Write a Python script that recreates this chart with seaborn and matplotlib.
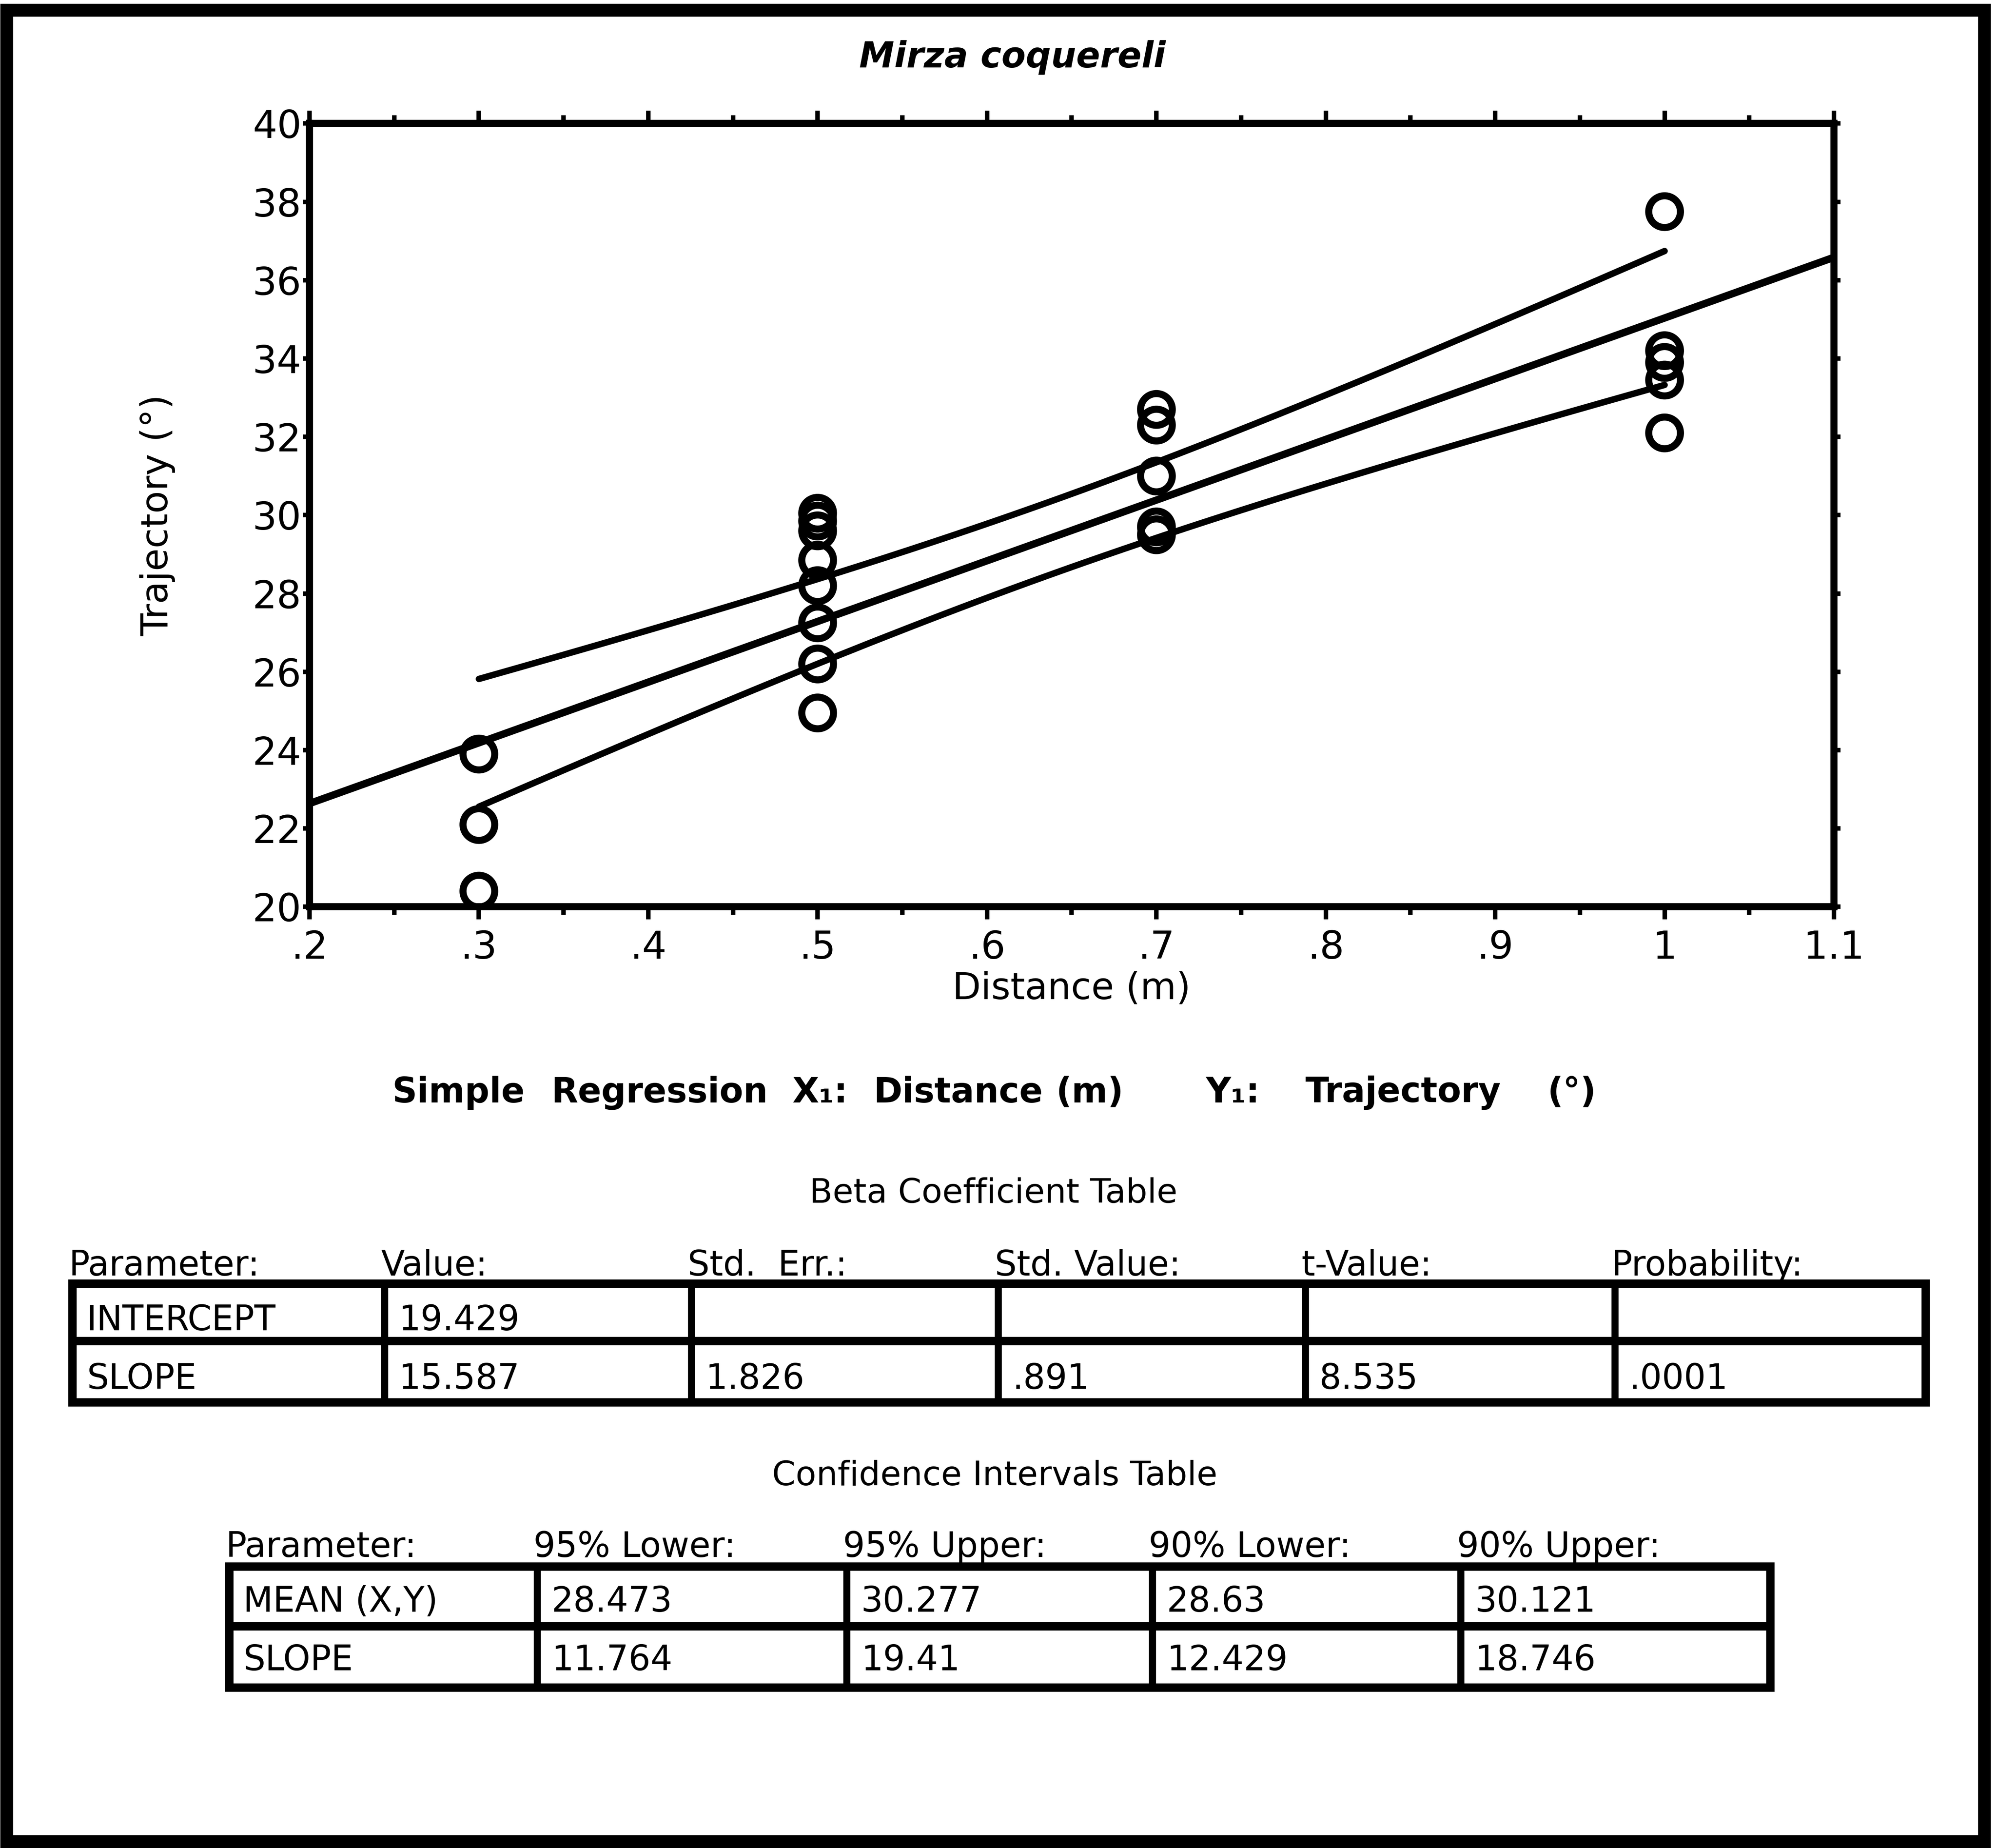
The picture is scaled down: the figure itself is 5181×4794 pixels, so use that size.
import numpy as np
import pandas as pd
import matplotlib
matplotlib.use("Agg")
import matplotlib.pyplot as plt
from matplotlib.ticker import FixedLocator, FixedFormatter, MultipleLocator
from matplotlib.patches import Rectangle
import seaborn as sns

# ---------------- data ----------------
distance_m = [0.3, 0.3, 0.3,
              0.5, 0.5, 0.5, 0.5, 0.5, 0.5, 0.5, 0.5,
              0.7, 0.7, 0.7, 0.7, 0.7,
              1.0, 1.0, 1.0, 1.0, 1.0]
trajectory_deg = [23.9, 22.1, 20.4,
                  30.05, 29.85, 29.6, 28.85, 28.2, 27.25, 26.2, 24.95,
                  32.7, 32.3, 31.0, 29.7, 29.5,
                  37.75, 34.2, 33.9, 33.45, 32.1]

x_ticks = [0.2, 0.3, 0.4, 0.5, 0.6, 0.7, 0.8, 0.9, 1.0, 1.1]
x_tick_labels = [".2", ".3", ".4", ".5", ".6", ".7", ".8", ".9", "1", "1.1"]
y_ticks = [20, 22, 24, 26, 28, 30, 32, 34, 36, 38, 40]
y_tick_labels = ["20", "22", "24", "26", "28", "30", "32", "34", "36", "38", "40"]

title_text = "Mirza coquereli"
x_label = "Distance (m)"
y_label = "Trajectory (°)"

header_words = ["Simple", "Regression", "X₁:", "Distance", "(m)", "Y₁:", "Trajectory", "(°)"]

beta_title = "Beta Coefficient Table"
beta_header = ["Parameter:", "Value:", "Std.  Err.:", "Std. Value:", "t-Value:", "Probability:"]
beta_rows = [["INTERCEPT", "19.429", "", "", "", ""],
             ["SLOPE", "15.587", "1.826", ".891", "8.535", ".0001"]]

ci_title = "Confidence Intervals Table"
ci_header = ["Parameter:", "95% Lower:", "95% Upper:", "90% Lower:", "90% Upper:"]
ci_rows = [["MEAN (X,Y)", "28.473", "30.277", "28.63", "30.121"],
           ["SLOPE", "11.764", "19.41", "12.429", "18.746"]]

T95 = 2.093  # t(0.975, df=19)

# ---------------- figure ----------------
sns.set_theme(style="white")
plt.rcParams['font.family'] = ['DejaVu Sans']

DPI = 300
fig = plt.figure(figsize=(5181 / DPI, 4794 / DPI), dpi=DPI)
fig.patch.set_facecolor("white")

# layout helper axes in reference pixel units (1568 x 1451 frame)
bg = fig.add_axes([0, 0, 1, 1], zorder=0)
bg.set_xlim(0, 1568)
bg.set_ylim(1451, 0)
bg.axis("off")

L, R, T, B = 243, 1440, 97, 712
ax = fig.add_axes([L / 1568, 1 - B / 1451, (R - L) / 1568, (B - T) / 1451], zorder=2)
ax.set_facecolor("none")

df = pd.DataFrame({"Distance": distance_m, "Trajectory": trajectory_deg})

# regression and 95% confidence band for the mean
x = np.asarray(distance_m)
y = np.asarray(trajectory_deg)
n = len(x)
slope, intercept = np.polyfit(x, y, 1)
resid = y - (intercept + slope * x)
s = np.sqrt(np.sum(resid ** 2) / (n - 2))
sxx = np.sum((x - x.mean()) ** 2)

xs_full = np.linspace(0.2, 1.1, 200)
fit_df = pd.DataFrame({"x": xs_full, "y": intercept + slope * xs_full})
xs_band = np.linspace(x.min(), x.max(), 200)
se = s * np.sqrt(1 / n + (xs_band - x.mean()) ** 2 / sxx)
band_hi = pd.DataFrame({"x": xs_band, "y": intercept + slope * xs_band + T95 * se})
band_lo = pd.DataFrame({"x": xs_band, "y": intercept + slope * xs_band - T95 * se})

sns.lineplot(data=fit_df, x="x", y="y", ax=ax, color="black", lw=4.6,
             estimator=None, sort=False)
sns.lineplot(data=band_hi, x="x", y="y", ax=ax, color="black", lw=4.0,
             estimator=None, sort=False)
sns.lineplot(data=band_lo, x="x", y="y", ax=ax, color="black", lw=4.0,
             estimator=None, sort=False)
sns.scatterplot(data=df, x="Distance", y="Trajectory", ax=ax, marker="o",
                s=390, facecolors="none", edgecolor="black", linewidth=4.4,
                zorder=5)

ax.set_xlim(0.2, 1.1)
ax.set_ylim(20, 40)
ax.xaxis.set_major_locator(FixedLocator(x_ticks))
ax.xaxis.set_major_formatter(FixedFormatter(x_tick_labels))
ax.xaxis.set_minor_locator(MultipleLocator(0.05))
ax.yaxis.set_major_locator(FixedLocator(y_ticks))
ax.yaxis.set_major_formatter(FixedFormatter(y_tick_labels))
ax.yaxis.set_minor_locator(MultipleLocator(1))

for sp in ax.spines.values():
    sp.set_visible(True)
    sp.set_color("black")
    sp.set_linewidth(4.4)

ax.tick_params(which="both", direction="out", top=True, right=True,
               bottom=True, left=True, color="black", width=2.8,
               labelsize=24, labelcolor="black")
ax.tick_params(axis="x", which="major", length=8, pad=6)
ax.tick_params(axis="x", which="minor", length=5)
ax.tick_params(axis="y", which="major", length=4, pad=1)
ax.tick_params(axis="y", which="minor", length=2.2)

ax.set_xlabel(x_label, fontsize=23, color="black")
ax.set_ylabel(y_label, fontsize=23, color="black")
ax.xaxis.set_label_coords(0.5, -0.082)
ax.yaxis.set_label_coords(-0.088, 0.5)

# title
bg.text(795, 45, title_text, fontsize=22, fontweight="bold", fontstyle="italic",
        ha="center", va="center", color="black")

# regression header line
header_x = [308, 433, 622, 686, 829, 947, 1025, 1215]
for wx, w in zip(header_x, header_words):
    bg.text(wx, 858, w, fontsize=21.5, fontweight="bold", ha="left", va="center",
            color="black")

TLW = 4.4


def draw_table(title, title_xy, header, header_y, rows, left, right, col_x,
               row_y, text_y):
    bg.text(title_xy[0], title_xy[1], title, fontsize=21, ha="center",
            va="center", color="black")
    hx = [left] + col_x
    for hxi, h in zip(hx, header):
        bg.text(hxi - 3, header_y, h, fontsize=21.5, ha="left", va="center",
                color="black")
    top, bottom = row_y[0], row_y[-1]
    bg.add_patch(Rectangle((left, top), right - left, bottom - top,
                           fill=False, edgecolor="black", lw=TLW + 0.8))
    for ry in row_y[1:-1]:
        bg.plot([left, right], [ry, ry], color="black", lw=TLW + 0.8,
                solid_capstyle="butt")
    for cx in col_x:
        bg.plot([cx, cx], [top, bottom], color="black", lw=TLW,
                solid_capstyle="butt")
    lefts = [left] + col_x
    for r, ty in zip(rows, text_y):
        for cl, val in zip(lefts, r):
            if val:
                bg.text(cl + 11, ty, val, fontsize=21.5, ha="left", va="center",
                        color="black")


draw_table(beta_title, (780, 937), beta_header, 994, beta_rows,
           57, 1512, [302, 543, 784, 1025, 1268], [1008, 1053, 1101],
           [1037, 1083])
draw_table(ci_title, (781, 1159), ci_header, 1215, ci_rows,
           180, 1390, [422, 665, 905, 1147], [1230, 1277, 1325],
           [1258, 1304])

# outer frame
bg.add_patch(Rectangle((5, 8), 1553, 1438, fill=False, edgecolor="black",
                       lw=8))

fig.savefig("out.png", dpi=DPI, facecolor="white")
